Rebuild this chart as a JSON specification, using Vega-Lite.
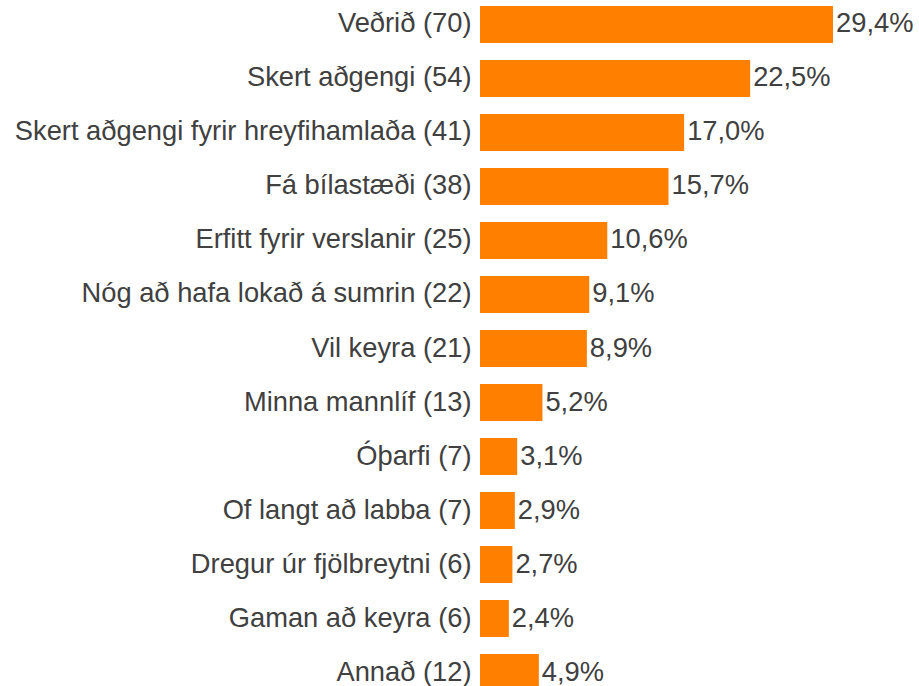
{
  "$schema": "https://vega.github.io/schema/vega-lite/v6.json",
  "autosize": {"type": "none"},
  "padding": {"left": 480, "top": 0, "right": 0, "bottom": 0},
  "width": 439,
  "height": 697,
  "background": "white",
  "config": {
    "view": {"stroke": null},
    "locale": {"number": {"decimal": ",", "thousands": ".", "grouping": [3], "currency": ["", " kr."]}},
    "font": "Liberation Sans"
  },
  "data": {
    "values": [
      {"category": "Veðrið (70)", "share": 0.294},
      {"category": "Skert aðgengi (54)", "share": 0.225},
      {"category": "Skert aðgengi fyrir hreyfihamlaða (41)", "share": 0.170},
      {"category": "Fá bílastæði (38)", "share": 0.157},
      {"category": "Erfitt fyrir verslanir (25)", "share": 0.106},
      {"category": "Nóg að hafa lokað á sumrin (22)", "share": 0.091},
      {"category": "Vil keyra (21)", "share": 0.089},
      {"category": "Minna mannlíf (13)", "share": 0.052},
      {"category": "Óþarfi (7)", "share": 0.031},
      {"category": "Of langt að labba (7)", "share": 0.029},
      {"category": "Dregur úr fjölbreytni (6)", "share": 0.027},
      {"category": "Gaman að keyra (6)", "share": 0.024},
      {"category": "Annað (12)", "share": 0.049}
    ]
  },
  "encoding": {
    "y": {
      "field": "category",
      "type": "nominal",
      "sort": null,
      "scale": {"paddingInner": 0.315, "paddingOuter": 0.111},
      "axis": {
        "title": null,
        "domain": false,
        "ticks": false,
        "labelFontSize": 27.3,
        "labelColor": "#404040",
        "labelFont": "Liberation Sans",
        "labelPadding": 9,
        "labelLimit": 0
      }
    },
    "x": {
      "field": "share",
      "type": "quantitative",
      "scale": {"domain": [0, 0.3656], "nice": false, "zero": true},
      "axis": null
    }
  },
  "layer": [
    {"mark": {"type": "bar", "color": "#FF8000"}},
    {
      "mark": {"type": "text", "align": "left", "baseline": "middle", "dx": 3, "fontSize": 27.3, "color": "#404040", "font": "Liberation Sans"},
      "encoding": {"text": {"field": "share", "type": "quantitative", "format": ".1%"}}
    }
  ]
}
